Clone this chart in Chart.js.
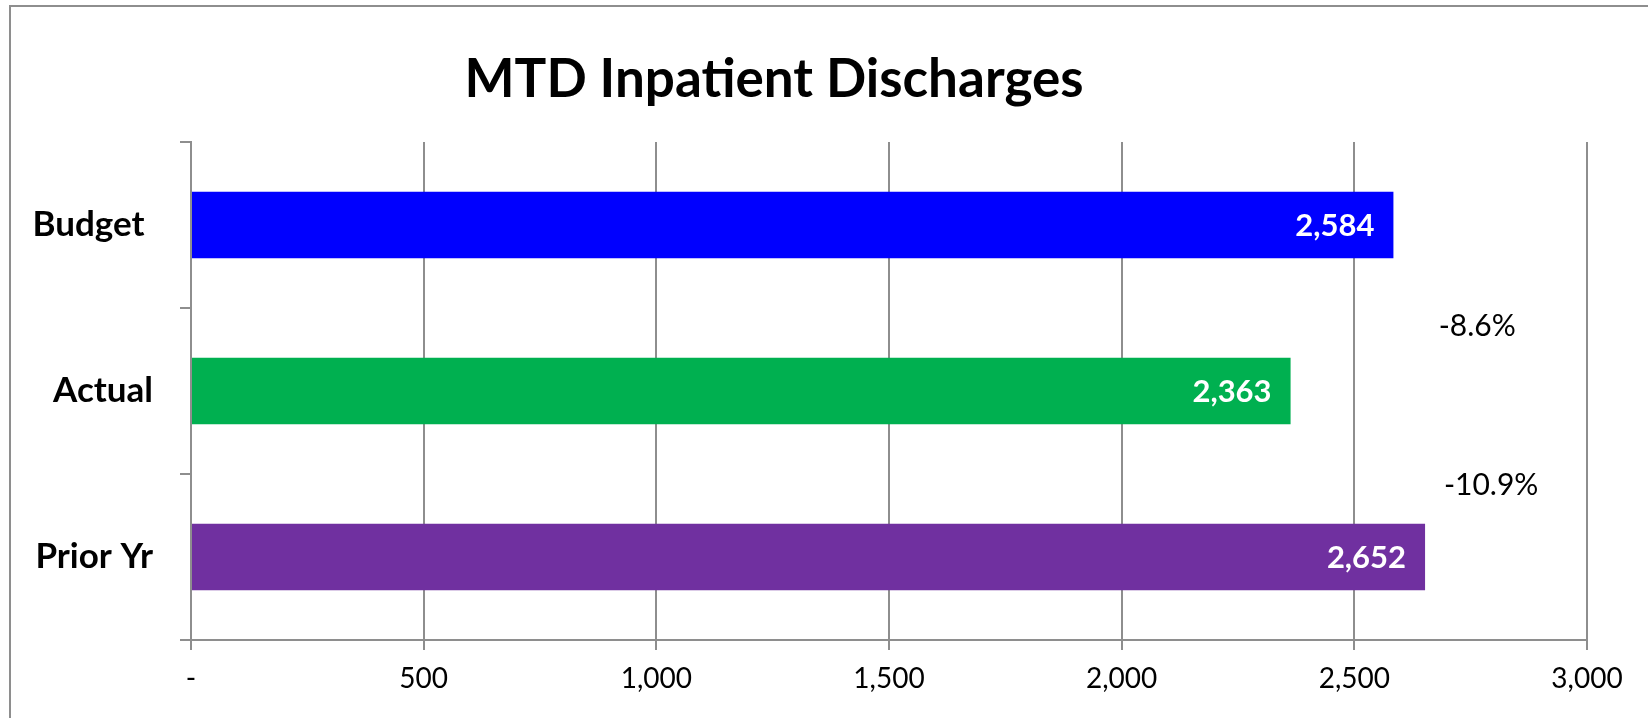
<!DOCTYPE html>
<html>
<head>
<meta charset="utf-8">
<title>MTD Inpatient Discharges</title>
<script src="https://cdn.jsdelivr.net/npm/chart.js@4"></script>
<style>
  html, body { margin: 0; padding: 0; background: #fff; }
  #wrap { position: relative; width: 1648px; height: 718px; }
</style>
</head>
<body>
<div id="wrap"><canvas id="dischargesChart" width="1648" height="718"></canvas></div>
<script>
// chart data
var categories = ['Budget ', 'Actual', 'Prior Yr'];
var discharges = [2584, 2363, 2652];
var barColors = ['#0000FF', '#00B050', '#7030A0'];
var varianceLabels = ['-8.6%', '-10.9%'];
var xTicks = [0, 500, 1000, 1500, 2000, 2500, 3000];

var FONT = 'Lato, "Open Sans", sans-serif';
var AXIS_GRAY = '#8e8e8e';

document.addEventListener("DOMContentLoaded", function () {

    // outer frame + title, drawn by hand so the title can sit off-centre like the original
    var framePlugin = {
        id: 'frame',
        beforeDraw: function (chart) {
            var ctx = chart.ctx;
            ctx.save();
            ctx.fillStyle = '#fff';
            ctx.fillRect(0, 0, chart.width, chart.height);
            ctx.strokeStyle = AXIS_GRAY;
            ctx.lineWidth = 2;
            ctx.strokeRect(10, 6, chart.width + 20, chart.height + 20);
            ctx.fillStyle = '#000';
            ctx.font = 'bold 53px ' + FONT;
            ctx.textAlign = 'center';
            ctx.textBaseline = 'middle';
            ctx.fillText('MTD Inpatient Discharges', 774, 80);
            ctx.restore();
        }
    };

    // values inside the bar ends + variance notes between bars
    var labelsPlugin = {
        id: 'barLabels',
        afterDatasetsDraw: function (chart) {
            var ctx = chart.ctx;
            var meta = chart.getDatasetMeta(0);
            ctx.save();
            ctx.fillStyle = '#fff';
            ctx.font = 'bold 31px ' + FONT;
            ctx.textAlign = 'right';
            ctx.textBaseline = 'middle';
            meta.data.forEach(function (bar, i) {
                ctx.fillText(discharges[i].toLocaleString('en-US'), bar.x - 19, bar.y + 1);
            });

            var xs = chart.scales.x, ys = chart.scales.y;
            var anchors = [{v: 2764, from: 0, t: 0.61}, {v: 2794, from: 1, t: 0.57}];
            ctx.fillStyle = '#000';
            ctx.font = '30px ' + FONT;
            ctx.textAlign = 'center';
            varianceLabels.forEach(function (txt, i) {
                var a = anchors[i];
                var y0 = ys.getPixelForValue(a.from), y1 = ys.getPixelForValue(a.from + 1);
                ctx.fillText(txt, xs.getPixelForValue(a.v), y0 + (y1 - y0) * a.t);
            });
            ctx.restore();
        }
    };

    var ctx = document.getElementById('dischargesChart').getContext('2d');
    var chart = new Chart(ctx, {
        type: 'bar',
        data: {
            labels: categories,
            datasets: [{
                label: 'Discharges',
                data: discharges,
                backgroundColor: barColors,
                borderWidth: 0,
                barPercentage: 0.4,
                categoryPercentage: 1.0
            }]
        },
        options: {
            indexAxis: 'y',
            responsive: false,
            animation: false,
            devicePixelRatio: 1,
            layout: { padding: { top: 142, right: 61, left: 0, bottom: 0 } },
            plugins: {
                legend: { display: false },
                title: { display: false },
                tooltip: { enabled: false }
            },
            scales: {
                x: {
                    min: 0,
                    max: 3000,
                    afterBuildTicks: function (scale) {
                        scale.ticks = xTicks.map(function (v) { return { value: v }; });
                    },
                    afterFit: function (scale) { scale.height = 78; },
                    grid: {
                        color: AXIS_GRAY,
                        lineWidth: 2,
                        tickLength: 10,
                        drawTicks: true
                    },
                    border: { display: true, color: AXIS_GRAY, width: 2 },
                    ticks: {
                        color: '#000',
                        font: { family: FONT, size: 28 },
                        padding: 12,
                        maxRotation: 0,
                        callback: function (v) {
                            return v === 0 ? '-' : Number(v).toLocaleString('en-US');
                        }
                    }
                },
                y: {
                    afterFit: function (scale) { scale.width = 191; },
                    grid: {
                        offset: true,
                        drawOnChartArea: false,
                        drawTicks: true,
                        tickLength: 11,
                        color: AXIS_GRAY,
                        lineWidth: 2
                    },
                    border: { display: true, color: AXIS_GRAY, width: 2 },
                    ticks: {
                        color: '#000',
                        font: { family: FONT, size: 35, weight: 'bold' },
                        padding: 27
                    }
                }
            }
        },
        plugins: [framePlugin, labelsPlugin]
    });

});
</script>
</body>
</html>
